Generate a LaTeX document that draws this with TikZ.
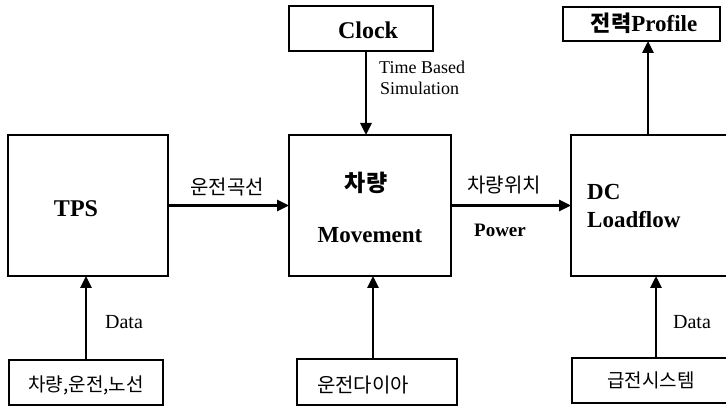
\documentclass[tikz,border=0pt]{standalone}
\usepackage{fontspec}
\setmainfont{Liberation Serif}
\newfontfamily\kr{Noto Sans CJK KR}
\usetikzlibrary{arrows.meta}
\tikzset{
  box/.style={draw, line width=1.3pt, rectangle, inner sep=0pt, outer sep=0pt},
  arr/.style={line width=2.8pt, -{Triangle[length=12pt,width=11pt]}},
  en/.style={font=\fontsize{23}{26}\selectfont\bfseries, inner sep=0pt},
  enr/.style={font=\fontsize{20}{24}\selectfont, inner sep=0pt},
  ko/.style={font=\kr\fontsize{19}{22}\selectfont, inner sep=0pt},
}
\begin{document}
\begin{tikzpicture}[x=1pt,y=-1pt]
\useasboundingbox (0,0) rectangle (726,406);
\clip (0,0) rectangle (726,406);
% boxes
\node[box, minimum width=144pt, minimum height=45pt] (clock) at (361,28.5) {};
\node[box, minimum width=157pt, minimum height=34pt] (prof) at (641.5,24) {};
\node[box, minimum width=160pt, minimum height=141pt] (tps) at (88,205.5) {};
\node[box, minimum width=162pt, minimum height=141pt] (mov) at (370,205.5) {};
\node[box, minimum width=169pt, minimum height=141pt] (dc) at (655.5,205.5) {};
\node[box, minimum width=154pt, minimum height=45pt] (b1) at (86,382.5) {};
\node[box, minimum width=160pt, minimum height=46pt] (b2) at (377,382) {};
\node[box, minimum width=168pt, minimum height=45pt] (b3) at (656,380.5) {};
% texts
\node[en, font=\fontsize{24}{26}\selectfont\bfseries] (tTPS) at (76,209) {TPS};
\node[en, font=\fontsize{24}{26}\selectfont\bfseries] (tClock) at (368,30) {Clock};
\node[enr, font=\fontsize{18}{22}\selectfont, anchor=west] (tTime) at (379,67) {Time Based};
\node[enr, font=\fontsize{18}{22}\selectfont, anchor=west] (tSim) at (380,88) {Simulation};
\node[ko, font=\kr\fontsize{23}{26}\selectfont\bfseries] (tCar) at (366,183) {차량};
\node[en] (tMov) at (370,235) {Movement};
\node[en, anchor=west] (tDC) at (587,192) {DC};
\node[en, anchor=west] (tLF) at (587,220) {Loadflow};
\node[inner sep=0pt] (tProf) at (644,23) {{\kr\fontsize{22}{24}\selectfont\bfseries 전력}{\fontsize{23}{26}\selectfont\bfseries Profile}};
\node[ko, font=\kr\fontsize{20}{22}\selectfont] (tCurve) at (227,187) {운전곡선};
\node[ko, font=\kr\fontsize{20}{22}\selectfont] (tPos) at (504,185) {차량위치};
\node[en, font=\fontsize{19}{22}\selectfont\bfseries] (tPow) at (500,230) {Power};
\node[enr] (tData1) at (124,322) {Data};
\node[enr] (tData2) at (692,322) {Data};
\node[ko] (tB1) at (86,385) {차량,운전,노선};
\node[ko, font=\kr\fontsize{20}{22}\selectfont] (tB2) at (363,385) {운전다이아};
\node[ko] (tB3) at (651,380) {급전시스템};
% arrows
\draw[arr] (tps.east) -- (mov.west);
\draw[arr] (mov.east) -- (dc.west);
\draw[arr] ([xshift=5pt]clock.south) -- ([xshift=5pt]clock.south |- mov.north);
\draw[arr] ([xshift=-7.5pt]dc.north) -- ([xshift=-7.5pt]dc.north |- prof.south);
\draw[arr] (b1.north) -- (b1.north |- tps.south);
\draw[arr] ([xshift=-4pt]b2.north) -- ([xshift=-4pt]b2.north |- mov.south);
\draw[arr] (b3.north) -- (b3.north |- dc.south);
\end{tikzpicture}
\end{document}
